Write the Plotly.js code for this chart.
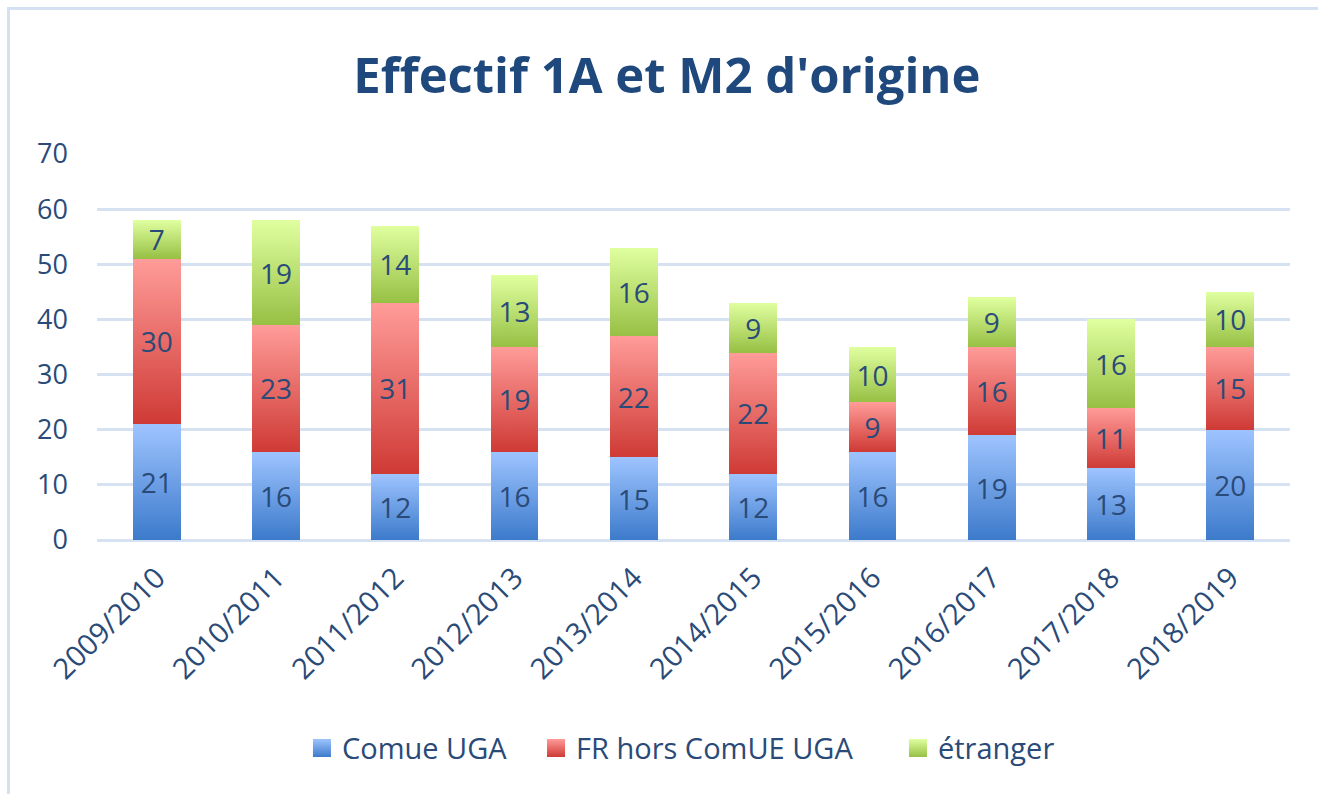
<!DOCTYPE html>
<html>
<head>
<meta charset="utf-8">
<script src="https://cdn.plot.ly/plotly-3.0.1.min.js"></script>
<style>
  html, body { margin: 0; padding: 0; background: #ffffff; }
  #wrap { position: relative; width: 1318px; height: 794px; overflow: hidden; }
  #chart { position: absolute; left: 0; top: 0; width: 1318px; height: 794px; }
  #frame { position: absolute; left: 7px; top: 7px; width: 1318px; height: 800px;
           border-top: 3px solid #d3e1f3; border-left: 3px solid #d3e1f3; pointer-events: none; }
</style>
</head>
<body>
<div id="wrap">
  <div id="chart"></div>
  <div id="frame"></div>
</div>
<script>
const years = ["2009/2010", "2010/2011", "2011/2012", "2012/2013", "2013/2014",
               "2014/2015", "2015/2016", "2016/2017", "2017/2018", "2018/2019"];
const comueUGA = [21, 16, 12, 16, 15, 12, 16, 19, 13, 20];
const frHorsComUE = [30, 23, 31, 19, 22, 22, 9, 16, 11, 15];
const etranger = [7, 19, 14, 13, 16, 9, 10, 9, 16, 10];
const seriesNames = ["Comue UGA", "FR hors ComUE UGA", "étranger"];
const yTicks = [0, 10, 20, 30, 40, 50, 60, 70];

const labelColor = "#2a4a78";
const fontFam = "'Open Sans', 'DejaVu Sans', sans-serif";

function barTrace(name, values, color, legendId) {
  return {
    type: "bar",
    name: name,
    legend: legendId,
    x: years,
    y: values,
    text: values.map(String),
    textposition: "inside",
    insidetextanchor: "middle",
    textangle: 0,
    constraintext: "none",
    textfont: { family: fontFam, size: 28, color: labelColor },
    marker: { color: color, line: { width: 0 } },
    width: 0.4,
    hoverinfo: "x+y+name"
  };
}

const data = [
  barTrace(seriesNames[0], comueUGA, "#6c9fe6", "legend"),
  barTrace(seriesNames[1], frHorsComUE, "#e66b67", "legend2"),
  barTrace(seriesNames[2], etranger, "#bcdd75", "legend3")
];

function legendAt(x) {
  return {
    orientation: "h",
    x: x, xanchor: "left",
    y: -0.539, yanchor: "middle",
    font: { family: fontFam, size: 29, color: labelColor },
    bgcolor: "rgba(0,0,0,0)",
    borderwidth: 0
  };
}

const layout = {
  width: 1318,
  height: 794,
  barmode: "stack",
  paper_bgcolor: "rgba(0,0,0,0)",
  plot_bgcolor: "rgba(0,0,0,0)",
  margin: { l: 97, r: 28, t: 154, b: 254, pad: 0 },
  font: { family: fontFam, color: labelColor },
  title: {
    text: "<b>Effectif 1A et M2 d'origine</b>",
    font: { family: fontFam, size: 49, color: "#1f497d" },
    xref: "container", yref: "container",
    x: 0.506, y: 0.905, xanchor: "center", yanchor: "middle"
  },
  xaxis: {
    type: "category",
    tickangle: -45,
    tickfont: { family: fontFam, size: 29, color: labelColor },
    showgrid: false,
    showline: false,
    ticks: "",
    zeroline: false,
    ticklabelstandoff: 14
  },
  yaxis: {
    range: [0, 70],
    tickvals: yTicks,
    ticktext: yTicks.map(String),
    tickfont: { family: fontFam, size: 27, color: labelColor },
    showgrid: true,
    gridcolor: "#d6e2f1",
    gridwidth: 3,
    zeroline: true,
    zerolinecolor: "#d6e2f1",
    zerolinewidth: 3,
    showline: false,
    ticks: "",
    ticklabelstandoff: 28
  },
  legend: legendAt(0.1718),
  legend2: legendAt(0.368),
  legend3: legendAt(0.6714),
  showlegend: true
};

const gradients = [
  ["#9ec4ff", "#3c7acb"],
  ["#ff9c99", "#cf3a35"],
  ["#e0ffa0", "#97c044"]
];

function applyGradients(gd) {
  const svg = gd.querySelector("svg.main-svg");
  if (!svg) return;
  const ns = "http://www.w3.org/2000/svg";
  let defs = svg.querySelector("defs");
  if (!defs) { defs = document.createElementNS(ns, "defs"); svg.insertBefore(defs, svg.firstChild); }
  gradients.forEach((g, i) => {
    const lg = document.createElementNS(ns, "linearGradient");
    lg.setAttribute("id", "barGrad" + i);
    lg.setAttribute("x1", "0"); lg.setAttribute("y1", "0");
    lg.setAttribute("x2", "0"); lg.setAttribute("y2", "1");
    const s1 = document.createElementNS(ns, "stop");
    s1.setAttribute("offset", "0"); s1.setAttribute("stop-color", g[0]);
    const s2 = document.createElementNS(ns, "stop");
    s2.setAttribute("offset", "1"); s2.setAttribute("stop-color", g[1]);
    lg.appendChild(s1); lg.appendChild(s2);
    defs.appendChild(lg);
  });
  const traces = gd.querySelectorAll(".barlayer .trace");
  traces.forEach((t, i) => {
    t.querySelectorAll("path").forEach(p => { p.style.fill = "url(#barGrad" + i + ")"; });
  });
  const legendClasses = [".legend", ".legend2", ".legend3"];
  legendClasses.forEach((cls, i) => {
    gd.querySelectorAll(cls + " .legendpoints path").forEach(p => {
      p.setAttribute("d", "M9,9H-9V-9H9Z");
      p.style.fill = "url(#barGrad" + i + ")";
    });
  });
}

Plotly.newPlot("chart", data, layout, { displayModeBar: false, staticPlot: true })
  .then(gd => applyGradients(gd));
</script>
</body>
</html>
